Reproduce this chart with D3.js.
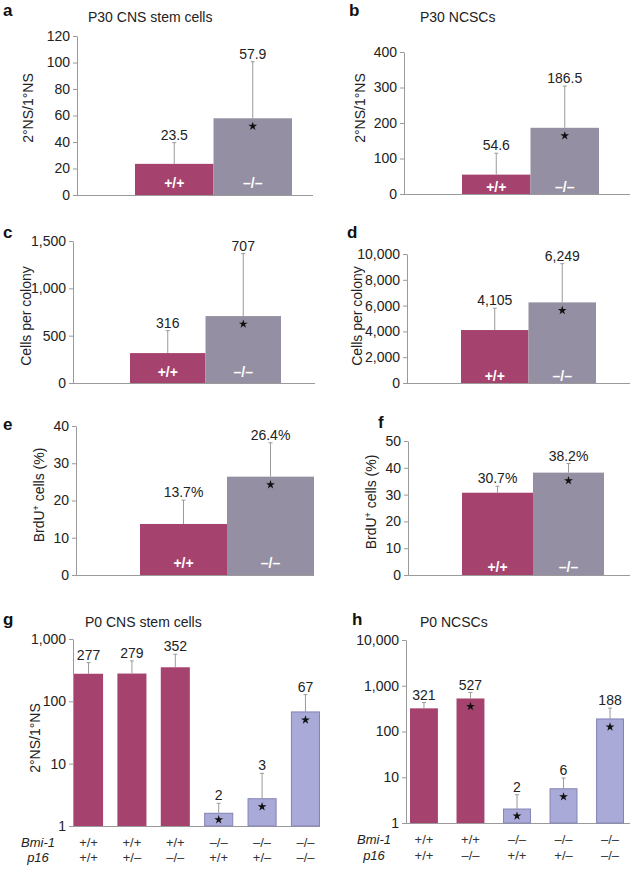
<!DOCTYPE html>
<html>
<head>
<meta charset="utf-8">
<script src="https://cdn.jsdelivr.net/npm/d3@7"></script>
<style>
  html, body { margin: 0; padding: 0; background: #fff; }
  svg { display: block; }
</style>
</head>
<body>
<svg id="chart" width="636" height="871"></svg>
<script>
// ---------------- DATA ----------------
const genotypes = ["+/+", "–/–"];

const aValues = [23.5, 57.9];
const aErrTop = [39.5, 100.6];
const aLabels = ["23.5", "57.9"];
const aStars = [false, true];
const aTicks = [0, 20, 40, 60, 80, 100, 120];

const bValues = [54.6, 186.5];
const bErrTop = [115, 304];
const bLabels = ["54.6", "186.5"];
const bStars = [false, true];
const bTicks = [0, 100, 200, 300, 400];

const cValues = [316, 707];
const cErrTop = [553, 1367];
const cLabels = ["316", "707"];
const cStars = [false, true];
const cTicks = [0, 500, 1000, 1500];

const dValues = [4105, 6249];
const dErrTop = [5800, 9250];
const dLabels = ["4,105", "6,249"];
const dStars = [false, true];
const dTicks = [0, 2000, 4000, 6000, 8000, 10000];

const eValues = [13.7, 26.4];
const eErrTop = [20.1, 35.5];
const eLabels = ["13.7%", "26.4%"];
const eStars = [false, true];
const eTicks = [0, 10, 20, 30, 40];

const fValues = [30.7, 38.2];
const fErrTop = [33.1, 41.6];
const fLabels = ["30.7%", "38.2%"];
const fStars = [false, true];
const fTicks = [0, 10, 20, 30, 40, 50];

const gBmi1 = ["+/+", "+/+", "+/+", "–/–", "–/–", "–/–"];
const gP16  = ["+/+", "+/–", "–/–", "+/+", "+/–", "–/–"];
const gValues = [277, 279, 352, 1.6, 2.74, 67.6];
const gErrTop = [418, 445, 570, 2.31, 7.0, 128];
const gLabels = ["277", "279", "352", "2", "3", "67"];
const gStars = [false, false, false, true, true, true];
const gTicks = [1, 10, 100, 1000];

const hBmi1 = ["+/+", "+/+", "–/–", "–/–", "–/–"];
const hP16  = ["+/+", "–/–", "+/+", "+/–", "–/–"];
const hValues = [321, 527, 2.02, 5.6, 188];
const hErrTop = [430, 711, 4.15, 9.6, 324];
const hLabels = ["321", "527", "2", "6", "188"];
const hStars = [false, true, true, true, true];
const hTicks = [1, 10, 100, 1000, 10000];

// ---------------- STYLE ----------------
const FONT = "'Liberation Sans', Arial, Helvetica, sans-serif";
const MAGENTA = "#a6426e";
const GRAY = "#948fa2";
const LAVENDER = "#a9aad7";
const LAV_EDGE = "#8384b6";
const AXIS = "#9a9a9a";
const TEXT = "#222";

const svg = d3.select("#chart");

function drawPanel(cfg) {
  const g = svg.append("g");
  const n = cfg.values.length;
  const y = (cfg.log ? d3.scaleLog() : d3.scaleLinear())
    .domain(cfg.domain).range([cfg.y0, cfg.yTop]);
  const x = d3.scaleBand().domain(d3.range(n))
    .range(cfg.barRange).paddingInner(cfg.pad || 0).paddingOuter(0);
  const isLav = i => cfg.colors[i] === LAVENDER;

  // y axis
  const ax = g.append("g")
    .attr("transform", `translate(${cfg.ax},0)`)
    .call(d3.axisLeft(y).tickValues(cfg.ticks).tickFormat(d3.format(","))
      .tickSize(4).tickSizeOuter(0).tickPadding(3));
  ax.select(".domain").attr("stroke", AXIS);
  ax.selectAll(".tick line").attr("stroke", AXIS);
  ax.selectAll(".tick text").attr("fill", TEXT)
    .style("font-family", FONT).style("font-size", "14px");

  // x axis baseline
  g.append("line")
    .attr("x1", cfg.ax).attr("x2", cfg.axEnd)
    .attr("y1", cfg.y0 + 0.5).attr("y2", cfg.y0 + 0.5)
    .attr("stroke", AXIS).attr("stroke-width", 1);

  const idx = d3.range(n);
  // bars
  g.selectAll("rect.bar").data(idx).enter().append("rect")
    .attr("x", i => x(i) + (isLav(i) ? 0.5 : 0))
    .attr("y", i => y(cfg.values[i]))
    .attr("width", i => x.bandwidth() - (isLav(i) ? 1 : 0))
    .attr("height", i => cfg.y0 - y(cfg.values[i]))
    .attr("fill", i => cfg.colors[i])
    .attr("stroke", i => isLav(i) ? LAV_EDGE : "none")
    .attr("stroke-width", 1);

  // error bars
  const cx = i => x(i) + x.bandwidth() / 2;
  g.selectAll("line.err").data(idx).enter().append("line")
    .attr("x1", cx).attr("x2", cx)
    .attr("y1", i => y(cfg.values[i])).attr("y2", i => y(cfg.errTop[i]))
    .attr("stroke", AXIS).attr("stroke-width", 1);
  g.selectAll("line.cap").data(idx).enter().append("line")
    .attr("x1", i => cx(i) - 2).attr("x2", i => cx(i) + 2)
    .attr("y1", i => y(cfg.errTop[i])).attr("y2", i => y(cfg.errTop[i]))
    .attr("stroke", AXIS).attr("stroke-width", 1);

  // value labels
  g.selectAll("text.val").data(idx).enter().append("text")
    .attr("x", cx).attr("y", i => y(cfg.errTop[i]) - 3)
    .attr("text-anchor", "middle").attr("fill", TEXT)
    .style("font-family", FONT).style("font-size", "14px")
    .text(i => cfg.labels[i]);

  // stars
  const star = d3.symbol().type(d3.symbolStar).size(24);
  g.selectAll("path.star").data(idx.filter(i => cfg.stars[i])).enter().append("path")
    .attr("d", star)
    .attr("transform", i => {
      const top = y(cfg.values[i]);
      const sy = Math.min(top + 8, (top + cfg.y0) / 2);
      return `translate(${cx(i)},${sy})`;
    })
    .attr("fill", "#111");

  // in-bar genotype labels
  if (cfg.inBar) {
    g.selectAll("text.inbar").data(idx).enter().append("text")
      .attr("x", cx).attr("y", cfg.y0 - cfg.inOff)
      .attr("text-anchor", "middle").attr("fill", "#fff")
      .style("font-family", FONT).style("font-size", "14px").style("font-weight", "bold")
      .text(i => cfg.inBar[i]);
  }

  // genotype rows
  if (cfg.rows) {
    cfg.rows.forEach((row, r) => {
      g.append("text")
        .attr("x", cfg.rowLabelX).attr("y", cfg.rowY[r])
        .attr("text-anchor", "middle").attr("fill", TEXT)
        .style("font-family", FONT).style("font-size", "13px").style("font-style", "italic")
        .text(row.name);
      g.selectAll(null).data(idx).enter().append("text")
        .attr("x", cx).attr("y", cfg.rowY[r])
        .attr("text-anchor", "middle").attr("fill", "#333")
        .style("font-family", FONT).style("font-size", "13px")
        .text(i => row.vals[i]);
    });
  }

  // panel letter
  svg.append("text").attr("x", cfg.letterX).attr("y", cfg.letterY)
    .style("font-family", FONT).style("font-size", "17px").style("font-weight", "bold")
    .attr("fill", "#111").text(cfg.letter);
  // title
  if (cfg.title) {
    svg.append("text").attr("x", cfg.titleX).attr("y", cfg.titleY)
      .style("font-family", FONT).style("font-size", "14px").attr("fill", TEXT)
      .text(cfg.title);
  }
  // y label
  if (cfg.yLabel) {
    const t = svg.append("text")
      .attr("transform", `translate(${cfg.yLabelX},${cfg.yLabelY}) rotate(-90)`)
      .attr("text-anchor", "middle").attr("fill", TEXT)
      .style("font-family", FONT).style("font-size", "14px");
    cfg.yLabel.forEach(part => {
      const ts = t.append("tspan").text(part.t);
      if (part.sup) ts.attr("baseline-shift", "super").style("font-size", "9px");
    });
  }
}

const two = [MAGENTA, GRAY];

drawPanel({ letter: "a", letterX: 3, letterY: 16, title: "P30 CNS stem cells", titleX: 88, titleY: 22,
  yLabel: [{t: "2°NS/1°NS"}], yLabelX: 33, yLabelY: 108,
  values: aValues, errTop: aErrTop, labels: aLabels, stars: aStars, ticks: aTicks,
  domain: [0, 120], y0: 195, yTop: 36, ax: 77, axEnd: 313, barRange: [135, 292],
  colors: two, inBar: genotypes, inOff: 7 });

drawPanel({ letter: "b", letterX: 349, letterY: 16, title: "P30 NCSCs", titleX: 420, titleY: 22,
  yLabel: [{t: "2°NS/1°NS"}], yLabelX: 365, yLabelY: 108,
  values: bValues, errTop: bErrTop, labels: bLabels, stars: bStars, ticks: bTicks,
  domain: [0, 400], y0: 194, yTop: 52, ax: 404, axEnd: 630, barRange: [462, 599],
  colors: two, inBar: genotypes, inOff: 2 });

drawPanel({ letter: "c", letterX: 3, letterY: 238,
  yLabel: [{t: "Cells per colony"}], yLabelX: 31, yLabelY: 316,
  values: cValues, errTop: cErrTop, labels: cLabels, stars: cStars, ticks: cTicks,
  domain: [0, 1500], y0: 383, yTop: 241, ax: 73, axEnd: 315, barRange: [130, 281],
  colors: two, inBar: genotypes, inOff: 6 });

drawPanel({ letter: "d", letterX: 347, letterY: 238,
  yLabel: [{t: "Cells per colony"}], yLabelX: 362, yLabelY: 316,
  values: dValues, errTop: dErrTop, labels: dLabels, stars: dStars, ticks: dTicks,
  domain: [0, 10000], y0: 383, yTop: 254, ax: 407, axEnd: 630, barRange: [461, 596],
  colors: two, inBar: genotypes, inOff: 2 });

drawPanel({ letter: "e", letterX: 3, letterY: 430,
  yLabel: [{t: "BrdU"}, {t: "+", sup: true}, {t: " cells (%)"}], yLabelX: 44, yLabelY: 495,
  values: eValues, errTop: eErrTop, labels: eLabels, stars: eStars, ticks: eTicks,
  domain: [0, 40], y0: 575, yTop: 426, ax: 76, axEnd: 314, barRange: [140, 314],
  colors: two, inBar: genotypes, inOff: 7 });

drawPanel({ letter: "f", letterX: 378, letterY: 428,
  yLabel: [{t: "BrdU"}, {t: "+", sup: true}, {t: " cells (%)"}], yLabelX: 376, yLabelY: 502,
  values: fValues, errTop: fErrTop, labels: fLabels, stars: fStars, ticks: fTicks,
  domain: [0, 50], y0: 575, yTop: 441, ax: 408, axEnd: 630, barRange: [462, 604],
  colors: two, inBar: genotypes, inOff: 3 });

drawPanel({ letter: "g", letterX: 3, letterY: 625, title: "P0 CNS stem cells", titleX: 85, titleY: 627,
  yLabel: [{t: "2°NS/1°NS"}], yLabelX: 40, yLabelY: 738, log: true,
  values: gValues, errTop: gErrTop, labels: gLabels, stars: gStars, ticks: gTicks,
  domain: [1, 1000], y0: 826, yTop: 639, ax: 73, axEnd: 320, barRange: [74, 320], pad: 0.33,
  colors: gBmi1.map(v => v === "+/+" ? MAGENTA : LAVENDER),
  rows: [{name: "Bmi-1", vals: gBmi1}, {name: "p16", vals: gP16}], rowLabelX: 38, rowY: [847, 862] });

drawPanel({ letter: "h", letterX: 352, letterY: 625, title: "P0 NCSCs", titleX: 420, titleY: 627,
  log: true,
  values: hValues, errTop: hErrTop, labels: hLabels, stars: hStars, ticks: hTicks,
  domain: [1, 10000], y0: 823, yTop: 640, ax: 406, axEnd: 630, barRange: [410, 624], pad: 0.4,
  colors: hBmi1.map(v => v === "+/+" ? MAGENTA : LAVENDER),
  rows: [{name: "Bmi-1", vals: hBmi1}, {name: "p16", vals: hP16}], rowLabelX: 374, rowY: [844, 860] });
</script>
</body>
</html>
